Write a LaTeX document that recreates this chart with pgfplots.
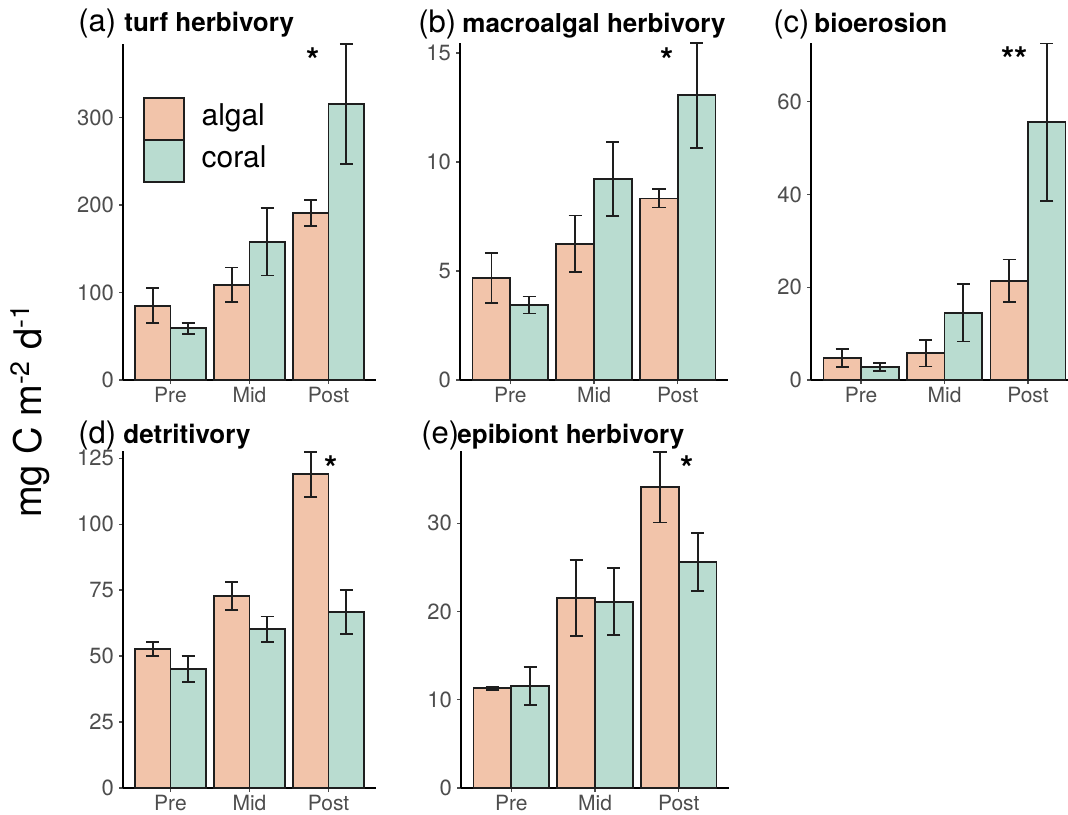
\documentclass[border=0pt]{standalone}
\usepackage{pgfplots}
\pgfplotsset{compat=1.18}
\usepackage{pgfplotstable}
\usepackage{fontspec}
\setmainfont{TeX Gyre Heros}
\definecolor{algal}{HTML}{F2C4AA}
\definecolor{coral}{HTML}{B9DCD0}
\definecolor{tickgray}{HTML}{4D4D4D}
\definecolor{edge}{HTML}{1E1E1E}

% x: 1=Pre, 2=Mid, 3=Post
\pgfplotstableread{
x alg algerr cor corerr
1 85 20 59 6
2 109 19.5 158 38.5
3 191 15 315.5 68.5
}\tabA
\pgfplotstableread{
x alg algerr cor corerr
1 4.68 1.13 3.44 0.39
2 6.25 1.3 9.22 1.7
3 8.33 0.42 13.06 2.4
}\tabB
\pgfplotstableread{
x alg algerr cor corerr
1 4.75 1.95 2.85 0.85
2 5.8 2.9 14.5 6.2
3 21.4 4.6 55.6 17
}\tabC
\pgfplotstableread{
x alg algerr cor corerr
1 52.7 2.6 45 4.9
2 72.7 5.3 60.2 4.8
3 118.9 8.5 66.7 8.3
}\tabD
\pgfplotstableread{
x alg algerr cor corerr
1 11.3 0.2 11.55 2.15
2 21.5 4.3 21.1 3.8
3 34.1 4.0 25.6 3.3
}\tabE

\pgfplotsset{
  panel/.style={
    scale only axis, anchor=south west,
    ybar, bar width=0.45,
    xmin=0.4, xmax=3.6, ymin=0,
    axis x line*=bottom, axis y line*=left,
    axis line style={-, line width=0.8pt, black},
    xtick={1,2,3}, xticklabels={Pre,Mid,Post},
    tick align=outside, major tick length=2pt,
    tick style={line width=0.6pt, color=black!70},
    x tick label style={font=\fontsize{10.5}{12}\selectfont, text=tickgray, yshift=2pt},
    y tick label style={font=\fontsize{11}{13}\selectfont, text=tickgray, xshift=1pt},
    /pgf/number format/assume math mode=true,
    scaled y ticks=false,
    clip=false,
  },
  mylegend/.style={legend image code/.code={\draw[##1] (0pt,-12pt) rectangle (20pt,9pt);}},
  algbar/.style={fill=algal, draw=edge, line width=0.9pt, bar shift=-0.225, mylegend,
    error bars/.cd, y dir=both, y explicit,
    error bar style={line width=0.9pt, edge},
    error mark options={rotate=90, line width=0.9pt, mark size=3.3pt, edge}},
  corbar/.style={fill=coral, draw=edge, line width=0.9pt, bar shift=0.225, mylegend,
    error bars/.cd, y dir=both, y explicit,
    error bar style={line width=0.9pt, edge},
    error mark options={rotate=90, line width=0.9pt, mark size=3.3pt, edge}},
}
\tikzset{
  sigstar/.style={font=\fontsize{17}{17}\selectfont\bfseries, inner sep=0pt, anchor=north},
  plab/.style={anchor=base west, inner sep=0pt, font=\fontsize{15.5}{18}\selectfont},
  ptit/.style={anchor=base west, inner sep=0pt, font=\fontsize{13}{15}\selectfont\bfseries},
}

\begin{document}
\begin{tikzpicture}
\useasboundingbox (0,0) rectangle (534pt,407pt);

% (a)
\begin{axis}[panel, at={(61.5pt,217pt)}, width=126.5pt, height=168pt,
  ymax=384, ytick={0,100,200,300},
  legend style={at={(axis cs:0.646,324)}, anchor=north west, draw=none, fill=none,
    inner sep=0pt, row sep=-0.9pt, column sep=8.5pt,
    font=\fontsize{15}{18}\selectfont, nodes={inner sep=0pt}},
  legend cell align=left]
\addplot[algbar] table[x=x, y=alg, y error=algerr]{\tabA};
\addlegendentry{algal}
\addplot[corbar] table[x=x, y=cor, y error=corerr]{\tabA};
\addlegendentry{coral}
\node[sigstar] at (axis cs:2.81,380.6) {*};
\end{axis}

% (b)
\begin{axis}[panel, at={(230pt,217pt)}, width=134pt, height=168.5pt,
  ymax=15.46, ytick={0,5,10,15}]
\addplot[algbar] table[x=x, y=alg, y error=algerr]{\tabB};
\addplot[corbar] table[x=x, y=cor, y error=corerr]{\tabB};
\node[sigstar] at (axis cs:2.87,15.28) {*};
\end{axis}

% (c)
\begin{axis}[panel, at={(405.5pt,217pt)}, width=128.5pt, height=168.5pt,
  xmax=3.48, ymax=72.7, ytick={0,20,40,60}]
\addplot[algbar] table[x=x, y=alg, y error=algerr]{\tabC};
\addplot[corbar] table[x=x, y=cor, y error=corerr]{\tabC};
\node[sigstar] at (axis cs:2.84,71.9) {**};
\end{axis}

% (d)
\begin{axis}[panel, at={(61.5pt,13pt)}, width=126.5pt, height=168.5pt,
  ymax=127.7, ytick={0,25,50,75,100,125}]
\addplot[algbar] table[x=x, y=alg, y error=algerr]{\tabD};
\addplot[corbar] table[x=x, y=cor, y error=corerr]{\tabD};
\node[sigstar] at (axis cs:3.03,126.1) {*};
\end{axis}

% (e)
\begin{axis}[panel, at={(230.5pt,13pt)}, width=134pt, height=168.5pt,
  ymax=38.2, ytick={0,10,20,30}]
\addplot[algbar] table[x=x, y=alg, y error=algerr]{\tabE};
\addplot[corbar] table[x=x, y=cor, y error=corerr]{\tabE};
\node[sigstar] at (axis cs:3.10,37.7) {*};
\end{axis}

% panel titles
\node[plab] at (39pt,391pt) {(a)};
\node[ptit] at (62pt,391pt) {turf herbivory};
\node[plab] at (209pt,390.5pt) {(b)};
\node[ptit] at (231pt,390.5pt) {macroalgal herbivory};
\node[plab] at (386.5pt,390.5pt) {(c)};
\node[ptit] at (407pt,390.5pt) {bioerosion};
\node[plab] at (39pt,185.5pt) {(d)};
\node[ptit] at (61.5pt,185.5pt) {detritivory};
\node[plab] at (210.5pt,185.5pt) {(e)};
\node[ptit] at (228.5pt,185.5pt) {epibiont herbivory};

% y label
\node[rotate=90, inner sep=0pt, font=\fontsize{19}{22}\selectfont] at (15pt,201.5pt)
  {mg C m\textsuperscript{-2} d\textsuperscript{-1}};
\end{tikzpicture}
\end{document}
